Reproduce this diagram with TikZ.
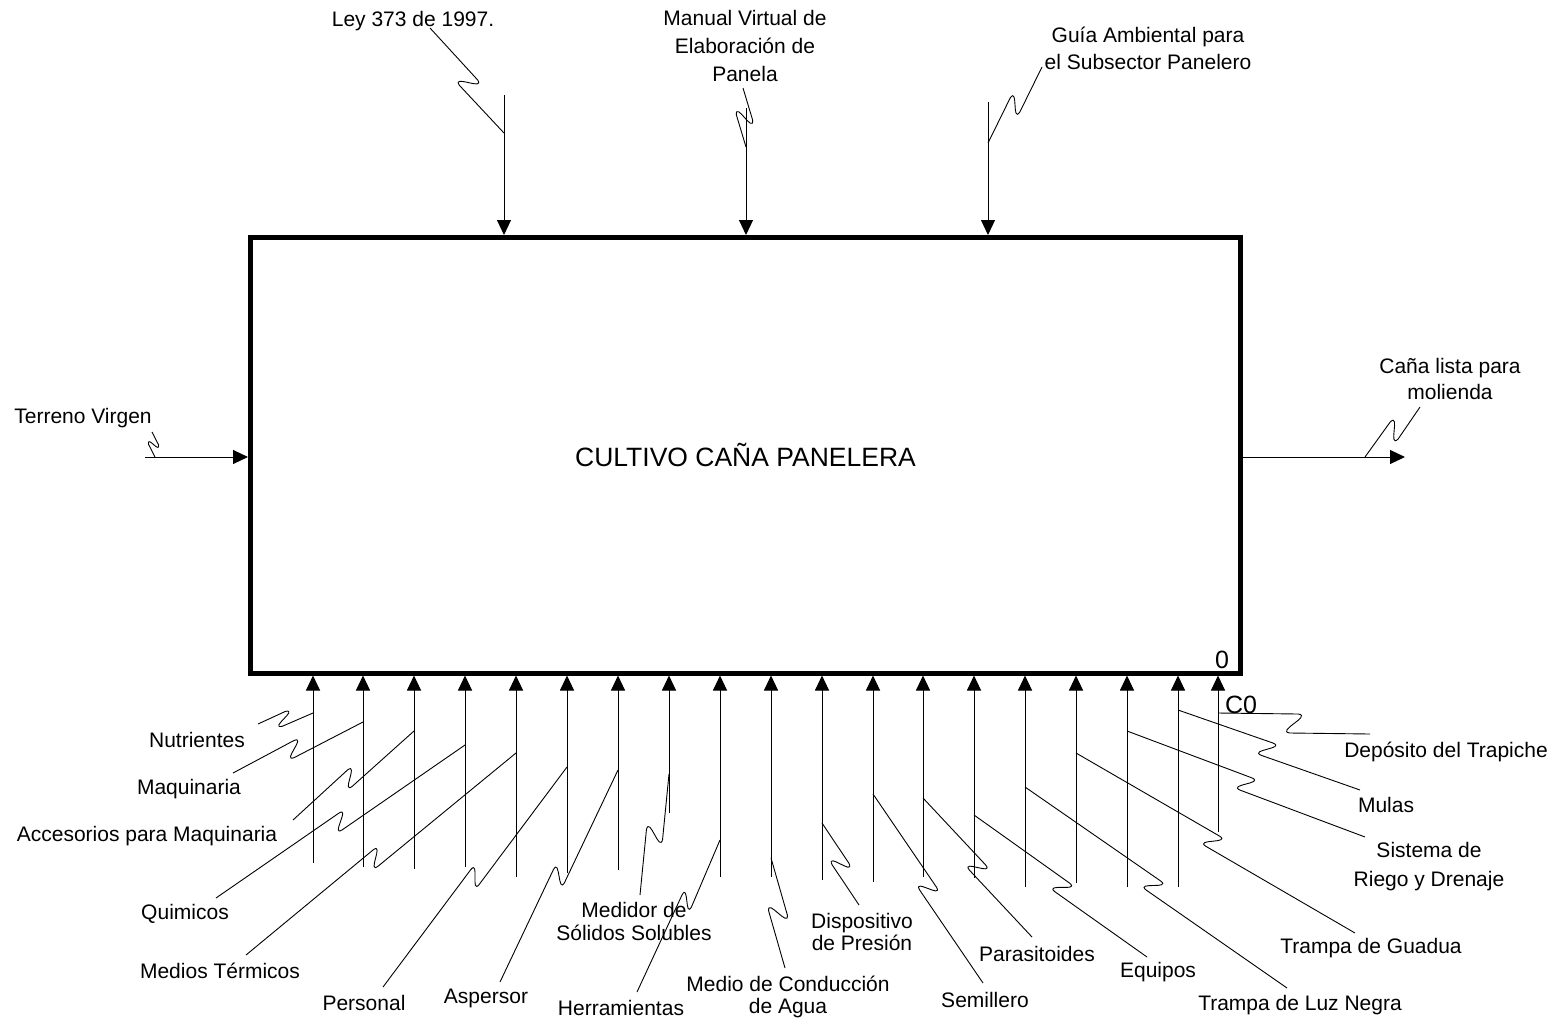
\documentclass[tikz,border=0pt]{standalone}
\usepackage{fontspec}
\setmainfont{Liberation Sans}
\usetikzlibrary{arrows.meta,calc}
\tikzset{
  lbl/.style={font=\fontsize{21}{26}\selectfont, inner sep=0pt, align=center},
  arr/.style={line width=1pt, -{Triangle[length=15pt,width=14pt]}},
  leader/.style={line width=0.9pt},
  pbox/.style={draw, line width=5pt, inner sep=0pt},
  bignum/.style={font=\fontsize{25}{28}\selectfont, inner sep=0pt},
}
\def\sqA{3pt}
\def\sqK{14pt}
\newcommand\sqz[4]{%
  \path ($(#1)!#3!(#2)$) coordinate (sqc);
  \path ($(sqc)!\sqA!(#2)$) coordinate (sqf);
  \path ($(sqc)!\sqA!(#1)$) coordinate (sqb);
  \path ($(sqc)!\sqK!(#2)$) coordinate (sqk);
  \path ($(sqf)!#4!90:(#2)$) coordinate (sqa);
  \path ($(sqb)!#4!90:(#1)$) coordinate (sqd);
  \draw[leader] (#1) -- (sqa) .. controls ($(sqa)+(sqk)-(sqc)$) and ($(sqd)-(sqk)+(sqc)$) .. (sqd) -- (#2);
}
\begin{document}
\begin{tikzpicture}[x=1pt,y=-1pt]
\useasboundingbox (0,0) rectangle (1560,1020);

% main box
\node[pbox, minimum width=990pt, minimum height=435.5pt, font=\fontsize{26.5}{30}\selectfont] (box) at (745.5,455.25) {CULTIVO CAÑA PANELERA};
\node[bignum] (nzero) at (1222,660) {0};

% controls
\coordinate (cLey) at (504,95);
\coordinate (cMan) at (746,108);
\coordinate (cGuia) at (988,102);
\foreach \c in {cLey,cMan,cGuia} \draw[arr] (\c) -- (\c |- box.north);

% input / output
\coordinate (tin) at (145,457);
\coordinate (tout) at (1405,457);
\draw[arr] (tin) -- (tin -| box.west);
\draw[arr] (box.east |- tout) -- (tout);

% mechanisms
\foreach \x/\y/\n in {313/863/m1, 363/867/m2, 414/869/m3, 465/867/m4, 516/877/m5,
  567/873/m6, 618/870/m7, 669/813/m8, 720/877/m9, 771/877/m10, 822/880/m11,
  873/882/m12, 923/877/m13, 974/878/m14, 1025/887/m15, 1076/883/m16,
  1127/887/m17, 1178/887/m18, 1218/832/m19}
{ \coordinate (\n) at (\x,\y); \draw[arr] (\n) -- (\n |- box.south); }
\node[bignum] (nC0) at (1241,705) {C0};

% labels top
\node[lbl] (lLey) at (413,21) {Ley 373 de 1997.};
\node[lbl, font=\fontsize{21}{28}\selectfont] (lMan) at (745,46) {Manual Virtual de\\Elaboración de\\Panela};
\node[lbl, font=\fontsize{21}{27}\selectfont] (lGuia) at (1148,48) {Guía Ambiental para\\el Subsector Panelero};
\node[lbl] (lTer) at (83,418) {Terreno Virgen};
\node[lbl] (lCana) at (1450,379) {Caña lista para\\molienda};

% labels bottom
\node[lbl] (lNut) at (197,740) {Nutrientes};
\node[lbl] (lMaq) at (189,789) {Maquinaria};
\node[lbl] (lAcc) at (147,836) {Accesorios para Maquinaria};
\node[lbl] (lQui) at (185,914) {Quimicos};
\node[lbl] (lMed) at (220,971) {Medios Térmicos};
\node[lbl] (lPer) at (364,1003) {Personal};
\node[lbl] (lAsp) at (486,998) {Aspersor};
\node[lbl] (lHer) at (621,1008) {Herramientas};
\node[lbl, font=\fontsize{21}{23}\selectfont] (lMdr) at (634,921) {Medidor de\\Sólidos Solubles};
\node[lbl, font=\fontsize{21}{22}\selectfont] (lCon) at (788,997) {Medio de Conducción\\de Agua};
\node[lbl, font=\fontsize{21}{22}\selectfont] (lDis) at (862,932) {Dispositivo\\de Presión};
\node[lbl] (lSem) at (985,1000) {Semillero};
\node[lbl] (lPar) at (1037,954) {Parasitoides};
\node[lbl] (lEqu) at (1158,972) {Equipos};
\node[lbl] (lLuz) at (1300,1005) {Trampa de Luz Negra};
\node[lbl] (lGua) at (1371,948) {Trampa de Guadua};
\node[lbl, font=\fontsize{21}{29}\selectfont] (lSis) at (1429,867) {Sistema de\\Riego y Drenaje};
\node[lbl] (lMul) at (1386,805) {Mulas};
\node[lbl] (lDep) at (1446,752) {Depósito del Trapiche};

% leader end points
\coordinate (aLey) at (430,28);   \coordinate (bLey) at (504,133);
\coordinate (aMan) at (743,88);   \coordinate (bMan) at (746,147);
\coordinate (aGuia) at (1042,67); \coordinate (bGuia) at (988,143);
\coordinate (aTer) at (152,432);  \coordinate (bTer) at (155,457);
\coordinate (aCana) at (1420,407);\coordinate (bCana) at (1365,457);
\coordinate (aNut) at (258,724);  \coordinate (bNut) at (313,713);
\coordinate (aMaq) at (233,773);  \coordinate (bMaq) at (363,722);
\coordinate (aAcc) at (293,820);  \coordinate (bAcc) at (414,731);
\coordinate (aQui) at (216,898);  \coordinate (bQui) at (465,745);
\coordinate (aMed) at (246,955);  \coordinate (bMed) at (516,753);
\coordinate (aPer) at (383,987);  \coordinate (bPer) at (567,767);
\coordinate (aAsp) at (500,982);  \coordinate (bAsp) at (618,770);
\coordinate (aMdr) at (640,895);  \coordinate (bMdr) at (669,774);
\coordinate (aHer) at (637,992);  \coordinate (bHer) at (720,840);
\coordinate (aCon) at (785,968);  \coordinate (bCon) at (771,858);
\coordinate (aDis) at (859,905);  \coordinate (bDis) at (822,823);
\coordinate (aSem) at (983,983);  \coordinate (bSem) at (873,794);
\coordinate (aPar) at (1032,937); \coordinate (bPar) at (923,798);
\coordinate (aEqu) at (1147,957); \coordinate (bEqu) at (974,815);
\coordinate (aLuz) at (1287,988); \coordinate (bLuz) at (1025,787);
\coordinate (aGua) at (1355,933); \coordinate (bGua) at (1076,753);
\coordinate (aSis) at (1365,837); \coordinate (bSis) at (1127,731);
\coordinate (aMul) at (1360,790); \coordinate (bMul) at (1178,710);
\coordinate (aDep) at (1370,734); \coordinate (bDep) at (1218,713);

% leaders
\sqz{aLey}{bLey}{0.52}{9pt}
\sqz{aMan}{bMan}{0.5}{8pt}
\sqz{aGuia}{bGuia}{0.5}{8pt}
\sqz{aCana}{bCana}{0.47}{9pt}
{\def\sqA{1pt}\def\sqK{9pt}\sqz{aTer}{bTer}{0.5}{5pt}}
\sqz{aNut}{bNut}{0.47}{7pt}
\sqz{aMaq}{bMaq}{0.47}{8pt}
\sqz{aAcc}{bAcc}{0.47}{8pt}
\sqz{aQui}{bQui}{0.5}{8pt}
\sqz{aMed}{bMed}{0.48}{8pt}
\sqz{aPer}{bPer}{0.5}{8pt}
\sqz{aAsp}{bAsp}{0.5}{8pt}
\sqz{aMdr}{bMdr}{0.5}{9pt}
\sqz{aHer}{bHer}{0.6}{7pt}
\sqz{aCon}{bCon}{0.5}{9pt}
\sqz{aDis}{bDis}{0.5}{8pt}
\sqz{aSem}{bSem}{0.5}{8pt}
\sqz{aPar}{bPar}{0.5}{8pt}
\sqz{aEqu}{bEqu}{0.49}{8pt}
\sqz{aLuz}{bLuz}{0.51}{8pt}
\sqz{aGua}{bGua}{0.51}{8pt}
\sqz{aSis}{bSis}{0.5}{8pt}
\sqz{aMul}{bMul}{0.51}{8pt}
\sqz{aDep}{bDep}{0.5}{10pt}
\end{tikzpicture}
\end{document}
